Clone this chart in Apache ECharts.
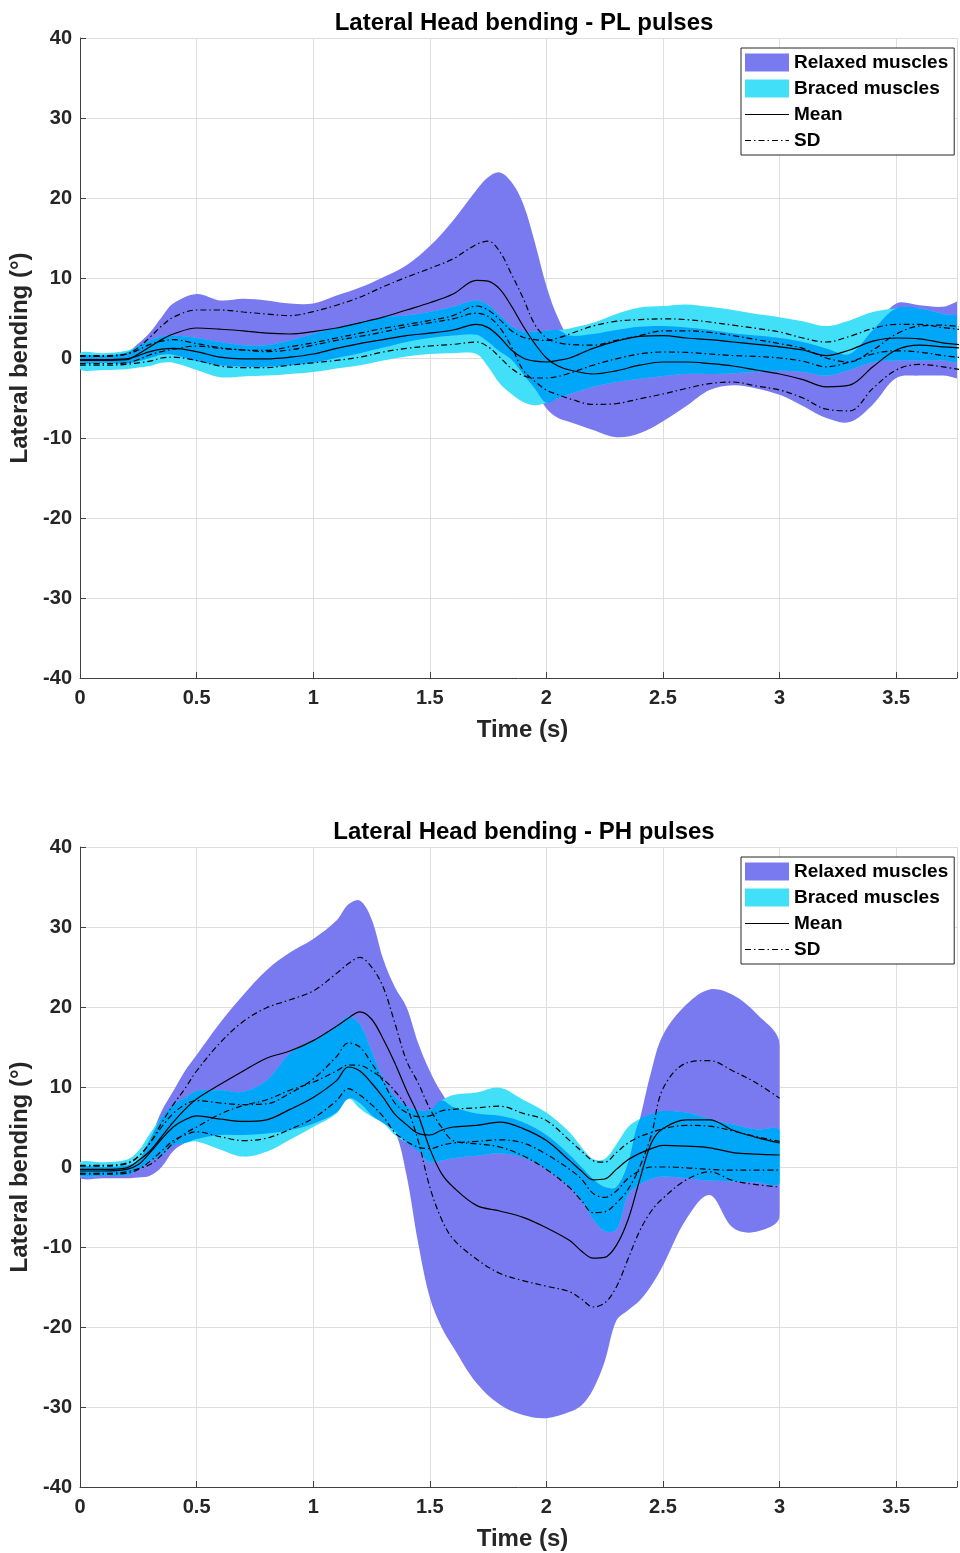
<!DOCTYPE html>
<html>
<head>
<meta charset="utf-8">
<script src="https://cdn.jsdelivr.net/npm/echarts@6/dist/echarts.min.js"></script>
<style>html,body{margin:0;padding:0;background:#fff}#c{width:960px;height:1553px}</style>
</head>
<body>
<div id="c"></div>
<script>
// ---------- PL pulses (top) ----------
const tPL = [0,0.1,0.2,0.25,0.3,0.35,0.4,0.5,0.6,0.7,0.8,0.9,1.0,1.1,1.2,1.3,1.4,1.5,1.6,1.7,1.75,1.8,1.85,1.9,1.95,2.0,2.05,2.1,2.2,2.3,2.4,2.5,2.6,2.7,2.8,2.9,3.0,3.1,3.2,3.3,3.4,3.5,3.6,3.7,3.8];
const plRelaxedHi = [0.3,0.3,0.7,1.8,3.2,5.1,6.8,8.0,7.2,7.4,7.2,6.8,6.8,7.8,8.8,10.1,11.6,14.0,17.2,21.0,22.6,23.2,22.0,19.3,14.5,9.0,5.0,2.8,3.0,3.5,3.9,4.0,3.8,3.5,3.1,2.8,2.5,2.0,1.2,0.5,3.5,6.8,6.6,6.4,7.1];
const plRelaxedLo = [-0.6,-0.6,-0.7,-0.4,0.0,0.4,0.4,-0.4,-0.9,-1.1,-1.1,-0.9,-0.6,0.0,0.6,1.3,2.0,2.5,2.8,2.9,2.0,0.8,-0.2,-2.0,-3.8,-6.3,-7.5,-8.0,-9.0,-9.9,-9.4,-7.9,-6.0,-4.0,-3.4,-3.8,-4.6,-6.0,-7.5,-8.0,-5.8,-2.5,-2.2,-2.2,-2.3];
const plBracedHi = [0.6,0.6,0.9,1.5,2.2,2.7,2.8,2.5,2.0,1.6,1.6,2.2,3.0,3.8,4.5,5.1,5.3,5.75,6.4,7.2,6.6,5.3,4.0,3.3,3.3,3.4,3.5,3.7,4.4,5.5,6.3,6.5,6.7,6.4,6.0,5.5,5.1,4.6,4.0,4.7,5.75,6.2,6.2,5.5,4.8];
const plBracedLo = [-1.4,-1.5,-1.4,-1.2,-1.0,-0.6,-0.6,-1.5,-2.4,-2.3,-2.2,-2.0,-1.75,-1.3,-0.9,-0.3,0.2,0.5,0.6,0.5,-1.1,-3.2,-4.5,-5.5,-5.9,-5.6,-5.0,-4.5,-3.6,-3.0,-2.6,-2.25,-2.0,-2.0,-1.9,-1.75,-1.6,-1.75,-2.2,-1.5,-0.5,-0.3,-0.3,-0.3,-0.4];
const plRelaxedMean = [-0.3,-0.3,-0.2,0.5,1.4,2.3,3.0,3.75,3.6,3.4,3.1,3.0,3.3,3.75,4.4,5.1,6.0,6.9,8.0,9.7,9.6,8.6,6.5,4.0,1.8,0.0,-1.0,-1.5,-2.0,-1.6,-0.9,-0.5,-0.5,-0.7,-1.0,-1.5,-2.0,-2.7,-3.6,-3.4,-1.1,1.0,1.6,1.4,1.2];
const plRelaxedSdUp = [0.2,0.2,0.5,1.3,2.6,4.0,5.1,6.0,6.0,5.75,5.5,5.3,5.8,6.6,7.6,8.9,10.1,11.2,12.4,14.2,14.6,13.3,10.5,7.5,4.2,2.5,1.9,1.7,1.6,2.2,2.8,3.4,3.4,3.2,2.8,2.3,1.8,1.2,0.0,-0.5,1.0,3.0,4.0,4.1,3.8];
const plRelaxedSdLo = [-0.7,-0.7,-0.6,-0.2,0.4,0.8,1.1,1.5,1.2,1.0,0.8,1.0,1.6,2.2,2.7,3.25,3.9,4.4,4.9,5.6,5.2,3.8,1.4,-1.5,-2.9,-4.0,-4.6,-5.1,-5.8,-5.7,-5.1,-4.5,-3.8,-3.2,-3.0,-3.5,-4.0,-5.0,-6.4,-6.6,-3.8,-1.5,-0.8,-1.1,-1.6];
const plBracedMean = [-0.2,-0.2,-0.1,0.3,0.8,1.1,1.2,0.8,0.1,-0.1,-0.1,0.1,0.5,1.2,1.8,2.3,2.8,3.1,3.5,4.2,3.8,2.6,1.0,0.0,-0.4,-0.5,-0.3,0.0,1.2,2.1,2.7,2.8,2.5,2.3,2.0,1.7,1.4,1.0,0.3,1.0,2.1,2.5,2.4,1.9,1.6];
const plBracedSdUp = [0.3,0.3,0.5,1.0,1.7,2.1,2.3,1.8,1.3,1.0,0.95,1.4,1.9,2.5,3.1,3.7,4.2,4.7,5.3,6.5,6.0,4.8,3.4,2.6,2.3,2.2,2.5,3.0,4.0,4.6,4.8,4.9,4.8,4.5,4.1,3.7,3.25,2.5,2.0,2.7,3.7,4.2,4.2,3.8,3.5];
const plBracedSdLo = [-0.9,-0.9,-0.8,-0.6,-0.4,0.0,0.1,-0.3,-1.0,-1.2,-1.2,-0.9,-0.6,-0.3,0.1,0.75,1.2,1.5,1.7,2.0,1.4,0.1,-1.3,-2.2,-2.5,-2.5,-2.3,-1.9,-0.9,-0.1,0.5,0.75,0.7,0.5,0.3,0.2,0.0,-0.4,-1.1,-0.5,0.5,0.9,0.75,0.3,0.0];

// ---------- PH pulses (bottom) ----------
const tPH = [0,0.1,0.2,0.25,0.3,0.35,0.4,0.45,0.5,0.6,0.7,0.8,0.9,1.0,1.1,1.15,1.2,1.25,1.3,1.35,1.4,1.45,1.5,1.55,1.6,1.7,1.8,1.9,2.0,2.1,2.15,2.2,2.25,2.3,2.35,2.4,2.45,2.5,2.6,2.7,2.8,2.9,3.0];
const phRelaxedHi = [0.0,0.0,0.2,0.8,3.5,7.0,9.5,12.0,14.0,18.0,21.5,24.6,26.8,28.5,30.8,32.8,33.3,31.0,26.0,22.5,20.0,15.5,12.0,9.3,7.5,6.7,6.4,5.6,4.0,1.5,0.0,-1.5,-2.5,-2.5,0.5,5.9,12.0,16.5,20.3,22.2,21.5,19.2,15.5];
const phRelaxedLo = [-1.4,-1.4,-1.4,-1.3,-1.1,0.0,2.0,3.0,3.5,4.0,4.0,4.2,4.6,5.4,6.8,8.5,8.0,6.5,5.5,4.5,-1.0,-9.5,-16.3,-20.0,-22.5,-27.0,-29.7,-31.0,-31.4,-30.6,-29.8,-27.8,-24.3,-19.2,-17.9,-16.7,-14.8,-12.3,-6.5,-3.5,-7.6,-8.1,-6.2];
const phBracedHi = [0.6,0.6,0.9,2.0,4.2,6.2,7.8,8.6,9.5,9.6,9.4,10.8,14.2,15.9,17.5,18.8,17.8,14.5,11.0,8.8,7.6,7.1,7.1,8.3,9.0,9.3,9.9,8.4,6.8,4.3,2.5,1.0,1.0,2.8,5.0,6.0,6.6,7.0,6.8,6.0,5.3,4.7,4.6];
const phBracedLo = [-1.1,-1.1,-1.0,-0.3,0.7,1.5,2.7,3.0,3.2,2.2,1.3,1.9,3.4,5.0,6.7,8.6,7.3,6.3,5.5,4.0,3.0,2.0,0.6,0.8,1.1,1.4,1.7,1.2,-0.3,-2.5,-4.2,-6.5,-8.0,-7.8,-3.5,-2.2,-1.5,-1.2,-1.4,-1.7,-1.8,-1.9,-2.0];
const phRelaxedMean = [-0.3,-0.3,-0.1,0.8,2.0,3.8,5.6,7.2,8.5,10.3,12.0,13.6,14.5,15.8,17.6,18.6,19.4,18.5,16.0,13.0,9.6,6.5,2.3,-0.8,-2.5,-4.8,-5.5,-6.3,-7.6,-9.2,-10.5,-11.4,-11.3,-9.8,-6.6,-1.6,3.0,4.8,5.9,5.9,4.6,3.7,3.0];
const phRelaxedSdUp = [0.1,0.1,0.4,1.3,3.0,5.5,7.8,9.8,12.0,15.5,18.2,19.9,20.9,22.0,24.2,25.4,26.2,25.0,22.5,18.0,13.3,10.5,7.3,5.0,3.3,2.9,2.5,1.4,-0.3,-2.6,-4.2,-5.7,-5.6,-4.5,-2.8,0.0,4.0,9.8,13.0,13.3,12.0,10.5,8.6];
const phRelaxedSdLo = [-0.8,-0.8,-0.6,-0.2,0.3,1.5,3.0,4.2,5.0,6.6,7.7,8.4,9.6,10.6,12.0,12.75,12.7,12.0,11.0,9.5,7.5,3.3,-2.5,-6.5,-9.0,-11.5,-13.3,-14.2,-14.9,-15.6,-16.5,-17.5,-17.0,-15.0,-11.5,-8.0,-5.5,-3.9,-1.6,-0.6,-1.7,-2.2,-2.5];
const phBracedMean = [-0.5,-0.5,-0.3,0.3,1.8,3.5,5.0,5.9,6.4,6.0,5.7,5.9,7.2,8.7,10.8,12.5,12.0,10.5,8.7,6.6,5.3,4.2,4.0,4.6,5.0,5.2,5.6,4.8,3.3,0.8,-0.5,-1.6,-1.5,-0.3,0.9,1.7,2.3,2.7,2.6,2.4,1.8,1.6,1.5];
const phBracedSdUp = [0.2,0.2,0.5,1.3,3.0,5.0,6.7,7.8,8.3,8.0,7.8,7.9,9.2,11.0,13.8,15.5,15.0,13.0,10.7,8.0,6.8,6.3,6.4,7.0,7.2,7.4,7.6,6.7,5.8,3.3,2.0,0.8,0.6,1.8,3.0,3.8,4.3,4.8,5.2,5.1,4.5,3.8,3.2];
const phBracedSdLo = [-0.9,-0.9,-0.8,-0.3,0.7,2.0,3.3,4.0,4.4,3.8,3.3,3.6,4.7,6.1,8.3,9.8,9.0,7.8,6.3,4.3,3.2,2.5,2.3,2.7,3.0,3.2,3.4,3.0,1.6,-0.3,-1.5,-3.3,-3.8,-3.0,-1.4,-0.5,0.0,0.0,-0.1,-0.3,-0.4,-0.4,-0.4];

// ---------- axis ticks / labels ----------
const yTicks = [-40,-30,-20,-10,0,10,20,30,40];
const xTickStep = 0.5;
const titles = ['Lateral Head bending - PL pulses', 'Lateral Head bending - PH pulses'];
const legendNames = ['Relaxed muscles', 'Braced muscles', 'Mean', 'SD'];

// ---------- styling ----------
const C_RELAX = '#7a7af0', C_BRACE = '#42e0f8', C_BOTH = '#00a6f7';
const DASHDOT = [6, 3, 1.5, 3];
const FONT = 'Liberation Sans, Arial, sans-serif';
const SM = 0.35;
const XMAX = 880 / 234;

function pairs(t, v) { return t.map((x, i) => [x, v[i]]); }

// filled band between lo and hi, drawn through the grid's own coordinate system
function band(gi, t, lo, hi, color, name) {
  return { type: 'custom', name: name, xAxisIndex: gi, yAxisIndex: gi, coordinateSystem: 'cartesian2d',
    data: [[t[0], lo[0]]], silent: true, z: 1, clip: true, animation: false,
    itemStyle: { color: color },
    renderItem: function (params, api) {
      const pts = [];
      for (let i = 0; i < t.length; i++) pts.push(api.coord([t[i], hi[i]]));
      for (let i = t.length - 1; i >= 0; i--) pts.push(api.coord([t[i], lo[i]]));
      const a = api.coord([t[0], yTicks[yTicks.length - 1]]);
      const b = api.coord([t[t.length - 1], yTicks[0]]);
      return { type: 'polygon', shape: { points: pts, smooth: SM }, style: { fill: color, stroke: null },
        clipPath: { type: 'rect', shape: { x: a[0], y: a[1], width: b[0] - a[0], height: b[1] - a[1] } } };
    } };
}

function overlap(rLo, rHi, bLo, bHi) {
  const lo = rLo.map((v, i) => Math.max(v, bLo[i]));
  const hi = rHi.map((v, i) => Math.max(Math.min(v, bHi[i]), lo[i]));
  return [lo, hi];
}

function line(gi, t, v, name, dash) {
  return { type: 'line', name: name, xAxisIndex: gi, yAxisIndex: gi, data: pairs(t, v), smooth: SM,
    symbol: 'none', silent: true, z: 3, animation: false, color: '#000',
    lineStyle: { color: '#000', width: 1.2, type: dash ? DASHDOT : 'solid' } };
}

function chartSeries(gi, t, rLo, rHi, bLo, bHi, rM, rSu, rSl, bM, bSu, bSl) {
  const ov = overlap(rLo, rHi, bLo, bHi);
  return [
    band(gi, t, rLo, rHi, C_RELAX, 'Relaxed muscles'),
    band(gi, t, bLo, bHi, C_BRACE, 'Braced muscles'),
    band(gi, t, ov[0], ov[1], C_BOTH, '_overlap' + gi),
    line(gi, t, rSu, 'SD', true), line(gi, t, rSl, 'SD', true),
    line(gi, t, bSu, 'SD', true), line(gi, t, bSl, 'SD', true),
    line(gi, t, rM, 'Mean', false), line(gi, t, bM, 'Mean', false)
  ];
}

// legend line icons (thin line across a 44x18 box)
function lineIcon(dash) {
  let p = 'M0,0h0.01v0.01h-0.01z M0,17.99h0.01v0.01h-0.01z ';
  if (!dash) return 'path://' + p + 'M0,8.4h44v1.2h-44z';
  let x = 0, k = 0;
  while (x < 44) {
    const len = Math.min(DASHDOT[k % 4], 44 - x);
    if (k % 2 === 0) p += 'M' + x + ',8.4h' + len + 'v1.2h-' + len + 'z ';
    x += DASHDOT[k % 4]; k++;
  }
  return 'path://' + p;
}

const gridTops = [38, 847];
const axisTxt = { fontFamily: FONT, fontWeight: 'bold', fontSize: 20, color: '#262626' };

function xAxis(gi) {
  return { type: 'value', gridIndex: gi, min: 0, max: XMAX, interval: xTickStep,
    name: 'Time (s)', nameLocation: 'middle', nameGap: 40,
    nameTextStyle: { fontFamily: FONT, fontWeight: 'bold', fontSize: 24, color: '#262626', padding: [0, 0, 0, 8] },
    axisLine: { onZero: false, lineStyle: { color: '#404040', width: 1 } },
    axisTick: { inside: true, length: 6, lineStyle: { color: '#404040' } },
    axisLabel: Object.assign({ margin: 10, formatter: v => {
      const k = v / xTickStep; return Math.abs(k - Math.round(k)) < 1e-6 ? String(v) : ''; } }, axisTxt),
    splitLine: { show: true, lineStyle: { color: '#dedede', width: 1 } } };
}
function yAxis(gi) {
  return { type: 'value', gridIndex: gi, min: yTicks[0], max: yTicks[yTicks.length - 1], interval: 10,
    name: 'Lateral bending (°)', nameLocation: 'middle', nameGap: 45, nameRotate: 90,
    nameTextStyle: { fontFamily: FONT, fontWeight: 'bold', fontSize: 24, color: '#262626' },
    axisLine: { show: true, onZero: false, lineStyle: { color: '#404040', width: 1 } },
    axisTick: { show: true, inside: true, length: 6, lineStyle: { color: '#404040' } },
    axisLabel: Object.assign({ margin: 8 }, axisTxt),
    splitLine: { show: true, lineStyle: { color: '#dedede', width: 1 } } };
}
function legend(gi) {
  return { orient: 'vertical', left: 741, top: gridTops[gi] + 10, itemWidth: 44, itemHeight: 18, itemGap: 7,
    padding: [5, 6, 5, 4], borderColor: '#262626', borderWidth: 1, backgroundColor: '#fff',
    selectedMode: false,
    textStyle: { fontFamily: FONT, fontWeight: 'bold', fontSize: 19, color: '#000' },
    data: [
      { name: legendNames[0], icon: 'rect', itemStyle: { color: C_RELAX, borderWidth: 0 } },
      { name: legendNames[1], icon: 'rect', itemStyle: { color: C_BRACE, borderWidth: 0 } },
      { name: legendNames[2], icon: lineIcon(false), itemStyle: { color: '#000', borderWidth: 0 } },
      { name: legendNames[3], icon: lineIcon(true), itemStyle: { color: '#000', borderWidth: 0 } }
    ] };
}

const chart = echarts.init(document.getElementById('c'), null, { renderer: 'canvas' });
chart.setOption({
  animation: false,
  backgroundColor: '#fff',
  title: titles.map((tx, i) => ({ text: tx, left: 519, textAlign: 'center', top: gridTops[i] - 32,
    textStyle: { fontFamily: FONT, fontWeight: 'bold', fontSize: 24, color: '#000' } })),
  grid: gridTops.map(tp => ({ left: 80, top: tp, width: 880, height: 640 })),
  xAxis: [xAxis(0), xAxis(1)],
  yAxis: [yAxis(0), yAxis(1)],
  legend: [legend(0), legend(1)],
  series: [].concat(
    chartSeries(0, tPL, plRelaxedLo, plRelaxedHi, plBracedLo, plBracedHi,
      plRelaxedMean, plRelaxedSdUp, plRelaxedSdLo, plBracedMean, plBracedSdUp, plBracedSdLo),
    chartSeries(1, tPH, phRelaxedLo, phRelaxedHi, phBracedLo, phBracedHi,
      phRelaxedMean, phRelaxedSdUp, phRelaxedSdLo, phBracedMean, phBracedSdUp, phBracedSdLo)
  )
});
</script>
</body>
</html>
